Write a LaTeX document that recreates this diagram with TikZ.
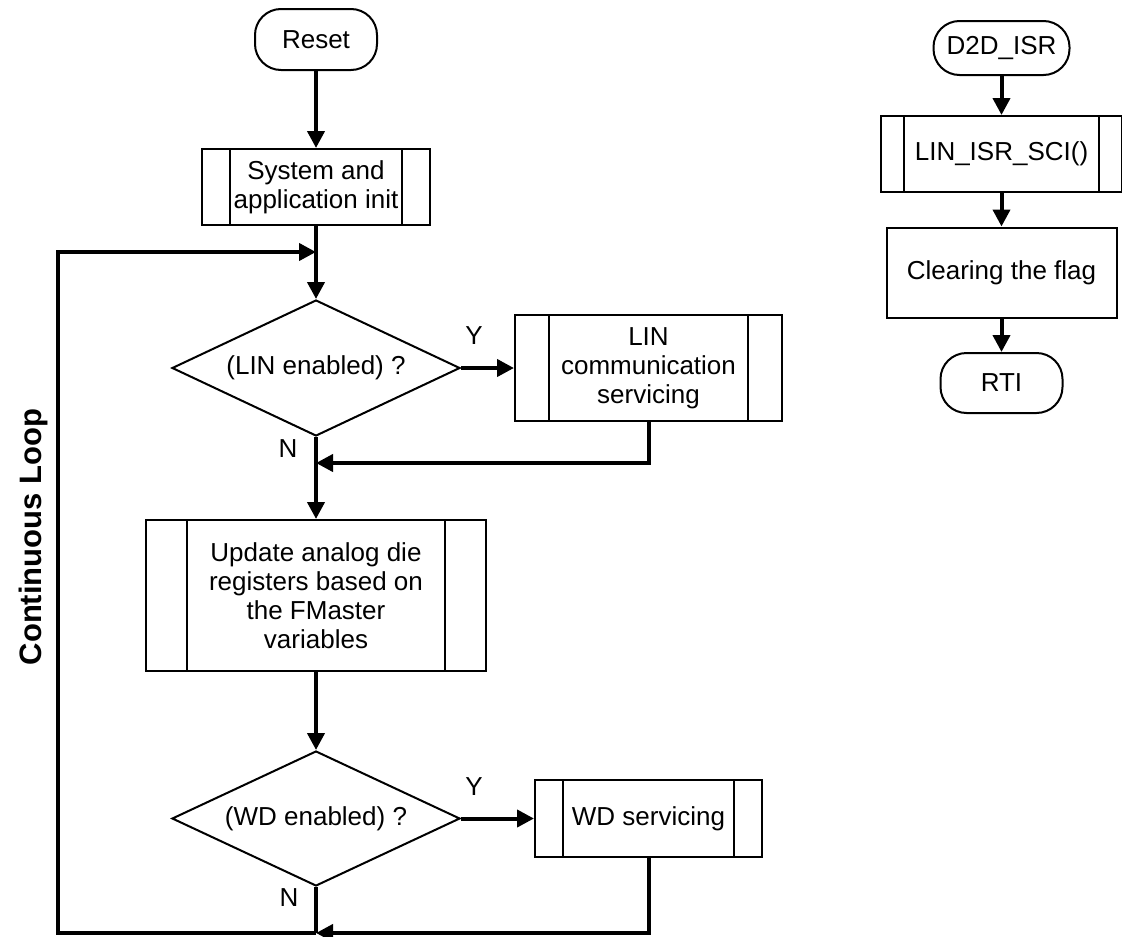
\documentclass[tikz,border=0pt]{standalone}
\usepackage{fontspec}
\setmainfont{Liberation Sans}
\usetikzlibrary{arrows.meta,shapes.geometric}
\tikzset{
  base/.style={draw, line width=2pt, inner sep=0pt, align=center, font=\fontsize{26}{29}\selectfont},
  term/.style={base, rectangle, rounded corners=26pt},
  procbox/.style={base, rectangle},
  subproc/.style={base, rectangle, path picture={
      \draw[line width=2pt] ([xshift=#1]path picture bounding box.north west) -- ([xshift=#1]path picture bounding box.south west);
      \draw[line width=2pt] ([xshift=-#1]path picture bounding box.north east) -- ([xshift=-#1]path picture bounding box.south east);}},
  decision/.style={base, diamond, aspect=2.1},
  flow/.style={line width=4pt, -{Triangle[length=17pt,width=17pt]}},
  plain/.style={line width=4pt},
  lbl/.style={font=\fontsize{26}{29}\selectfont, inner sep=0pt},
}
\begin{document}
\begin{tikzpicture}[x=1pt,y=-1pt]
\useasboundingbox (0,0) rectangle (1122,937);
% main flow
\node[term, minimum width=122pt, minimum height=61pt] (reset) at (316,39.5) {Reset};
\node[subproc=28pt, minimum width=228pt, minimum height=76pt] (sys) at (316,187) {System and\\application init};
\node[decision, minimum width=288pt, minimum height=136pt] (d1) at (316,368) {(LIN enabled) ?};
\node[subproc=34pt, minimum width=267pt, minimum height=106pt] (lin) at (648.5,368) {LIN\\communication\\servicing};
\node[subproc=41pt, minimum width=340pt, minimum height=151pt] (upd) at (316,595.5) {Update analog die\\registers based on\\the FMaster\\variables};
\node[decision, minimum width=288pt, minimum height=135pt] (d2) at (316,818.5) {(WD enabled) ?};
\node[subproc=28pt, minimum width=227pt, minimum height=77pt] (wd) at (648.5,818.5) {WD servicing};

\coordinate (j0) at (316,252);
\coordinate (j1) at (316,463);
\coordinate (j2) at (316,933);
\coordinate (cl1) at (58,933);
\coordinate (cl2) at (58,252);

\node[lbl] (y1) at (474,336) {Y};
\node[lbl] (n1) at (288,449) {N};
\node[lbl] (y2) at (474,787) {Y};
\node[lbl] (n2) at (289,898) {N};
\node[font=\fontsize{31}{34}\selectfont\bfseries, rotate=90, inner sep=0pt] (cloop) at (33,537) {Continuous Loop};

\draw[flow] (reset.south) -- (sys.north);
\draw[flow] (sys.south) -- (d1.north);
\draw[flow] (d1.east) -- (lin.west);
\draw[flow] (lin.south) |- (j1);
\draw[flow] (d1.south) -- (upd.north);
\draw[flow] (upd.south) -- (d2.north);
\draw[flow] (d2.east) -- (wd.west);
\draw[plain] (d2.south) -- (j2);
\draw[flow] (wd.south) |- (j2);
\draw[flow] (j2) -- (cl1) -- (cl2) -- (j0);

% ISR flow
\node[term, minimum width=136pt, minimum height=54pt] (isr) at (1001.5,48) {D2D\_ISR};
\node[subproc=23pt, minimum width=241pt, minimum height=76pt] (lsci) at (1001.5,154) {LIN\_ISR\_SCI()};
\node[procbox, minimum width=230pt, minimum height=90pt] (clr) at (1001.5,272.5) {Clearing the flag};
\node[term, minimum width=122pt, minimum height=60pt] (rti) at (1001.5,383) {RTI};
\draw[flow] (isr.south) -- (lsci.north);
\draw[flow] (lsci.south) -- (clr.north);
\draw[flow] (clr.south) -- (rti.north);
\end{tikzpicture}
\end{document}
